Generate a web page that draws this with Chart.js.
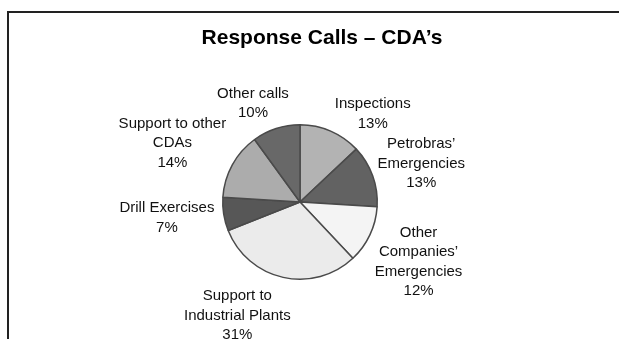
<!DOCTYPE html>
<html>
<head>
<meta charset="utf-8">
<script src="https://cdn.jsdelivr.net/npm/chart.js@4"></script>
<style>
    html, body { margin: 0; padding: 0; background: #fff; }
    #wrap { position: relative; width: 619px; height: 339px; }
    #frame { position: absolute; left: 7px; top: 11px; right: 0; bottom: 0; border-top: 2px solid #222; border-left: 2px solid #222; }
    canvas { position: absolute; left: 0; top: 0; }
</style>
</head>
<body>
<div id="wrap">
    <div id="frame"></div>
    <canvas id="myChart" width="619" height="339"></canvas>
</div>
<script>
// Slice labels (one entry per line) and their shares, clockwise from 12 o'clock
const categories = [
    ['Inspections'],
    ['Petrobras\u2019', 'Emergencies'],
    ['Other', 'Companies\u2019', 'Emergencies'],
    ['Support to', 'Industrial Plants'],
    ['Drill Exercises'],
    ['Support to other', 'CDAs'],
    ['Other calls']
];
const shares = [13, 13, 12, 31, 7, 14, 10];
const sliceColors = ['#b3b3b3', '#626262', '#f4f4f4', '#ebebeb', '#575757', '#acacac', '#686868'];
// small hand tweaks of label placement, like the original's manual layout
const labelNudge = [[23, 10], [-2, 1], [0, 6], [-32, 0], [0, -1], [-4, -3], [-9, 3]];
const titleText = 'Response Calls \u2013 CDA\u2019s';

// Title plus the "name / xx%" labels just outside each slice
const outsideLabels = {
    id: 'outsideLabels',
    afterDatasetsDraw(chart) {
        const ctx = chart.ctx;
        const meta = chart.getDatasetMeta(0);
        const lh = 19.5;
        const gap = 10;
        ctx.save();
        ctx.textAlign = 'center';
        ctx.textBaseline = 'middle';

        ctx.font = 'bold 21px "Liberation Sans", Arial, sans-serif';
        ctx.fillStyle = '#000';
        ctx.fillText(titleText, 322, 38);

        ctx.font = '15px "Liberation Sans", Arial, sans-serif';
        ctx.fillStyle = '#111';
        meta.data.forEach((arc, i) => {
            const lines = categories[i].concat([shares[i] + '%']);
            const w = Math.max(...lines.map(l => ctx.measureText(l).width));
            const h = lines.length * lh;
            const mid = (arc.startAngle + arc.endAngle) / 2;
            const ux = Math.cos(mid), uy = Math.sin(mid);
            const px = arc.x + ux * (arc.outerRadius + gap);
            const py = arc.y + uy * (arc.outerRadius + gap);
            const cx = px + ux * w / 2 + labelNudge[i][0];
            const cy = py + uy * h / 2 + labelNudge[i][1];
            lines.forEach((l, j) => {
                ctx.fillText(l, cx, cy - h / 2 + lh * (j + 0.5));
            });
        });
        ctx.restore();
    }
};

const ctx = document.getElementById('myChart').getContext('2d');
new Chart(ctx, {
    type: 'pie',
    data: {
        labels: categories.map(c => c.join(' ')),
        datasets: [{
            data: shares,
            backgroundColor: sliceColors,
            borderColor: '#4a4a4a',
            borderWidth: 1.5
        }]
    },
    options: {
        responsive: false,
        animation: false,
        layout: { padding: { left: 100, right: 119, top: 124, bottom: 59 } },
        plugins: {
            legend: { display: false },
            tooltip: { enabled: false },
            title: { display: false }
        }
    },
    plugins: [outsideLabels]
});
</script>
</body>
</html>
